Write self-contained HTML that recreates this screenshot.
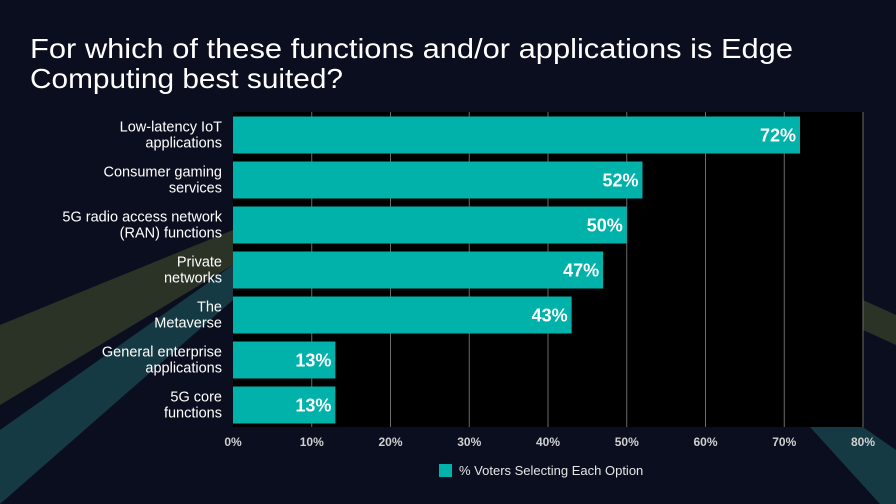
<!DOCTYPE html>
<html><head><meta charset="utf-8"><style>
html,body{margin:0;padding:0;background:#0b0e1f;}
svg{display:block;font-family:"Liberation Sans",Arial,sans-serif;}
</style></head><body>
<svg id="chart" width="896" height="504" viewBox="0 0 896 504" xmlns="http://www.w3.org/2000/svg">
<rect width="896" height="504" fill="#0b0e1f"/>
<polygon points="0,325 233,230 233,265 0,405" fill="#2b3326"/>
<polygon points="0,430 233,265 233,300 0,504" fill="#163a44"/>
<polygon points="863,300 896,315 896,345 863,330" fill="#2b3326"/>
<polygon points="810,427 863,427 896,450 896,504 880,504" fill="#163a44"/>
<text x="30" y="58" fill="#fff" font-size="28" textLength="763" lengthAdjust="spacingAndGlyphs">For which of these functions and/or applications is Edge</text>
<text x="30" y="88" fill="#fff" font-size="28" textLength="313" lengthAdjust="spacingAndGlyphs">Computing best suited?</text>
<rect x="233" y="112" width="630" height="315" fill="#000"/>
<g id="grid"></g><g id="bars"></g><g id="labels"></g><g id="ticks"></g>
<rect x="439" y="464" width="13" height="13" fill="#00b2aa"/>
<text x="459" y="475" fill="#e6e6e6" font-size="13">% Voters Selecting Each Option</text>
</svg>
<script>
const categories = [["Low-latency IoT","applications"],["Consumer gaming","services"],["5G radio access network","(RAN) functions"],["Private","networks"],["The","Metaverse"],["General enterprise","applications"],["5G core","functions"]];
const values = [72,52,50,47,43,13,13];
const tickValues = [0,10,20,30,40,50,60,70,80];
const NS="http://www.w3.org/2000/svg";
const x0=233,x1=863,yTop=112,yBot=427,maxV=80;
const xs=v=>x0+(v/maxV)*(x1-x0);
const band=(yBot-yTop)/values.length;
function mk(tag,attrs,parent){const e=document.createElementNS(NS,tag);for(const k in attrs)e.setAttribute(k,attrs[k]);document.getElementById(parent).appendChild(e);return e;}
tickValues.forEach(t=>{
  if(t>0){const l=mk('line',{x1:xs(t),x2:xs(t),y1:yTop,y2:yBot,stroke:'#6b6b6b','stroke-width':1},'grid');
  
  }
  const tx=mk('text',{x:xs(t),y:446,'text-anchor':'middle',fill:'#d0d0d0','font-size':12,'font-weight':'bold'},'ticks');
  tx.textContent=t+'%';
  
  
});
values.forEach((v,i)=>{
  const y=yTop+i*band+(band-37)/2+0.5;
  const r=mk('rect',{x:x0,y:y,width:xs(v)-x0,height:37,fill:'#00b2aa'},'bars');
  
  
  const vl=mk('text',{x:xs(v)-4,y:y+25,'text-anchor':'end',fill:'#fff','font-size':18,'font-weight':'bold'},'bars');
  vl.textContent=v+'%';
  
  
  const c=categories[i];
  c.forEach((line,j)=>{
    const t=mk('text',{x:222,y:y+15+j*16,'text-anchor':'end',fill:'#fff','font-size':14.5},'labels');
    t.textContent=line;
    
    
  });
});
</script>
</body></html>
